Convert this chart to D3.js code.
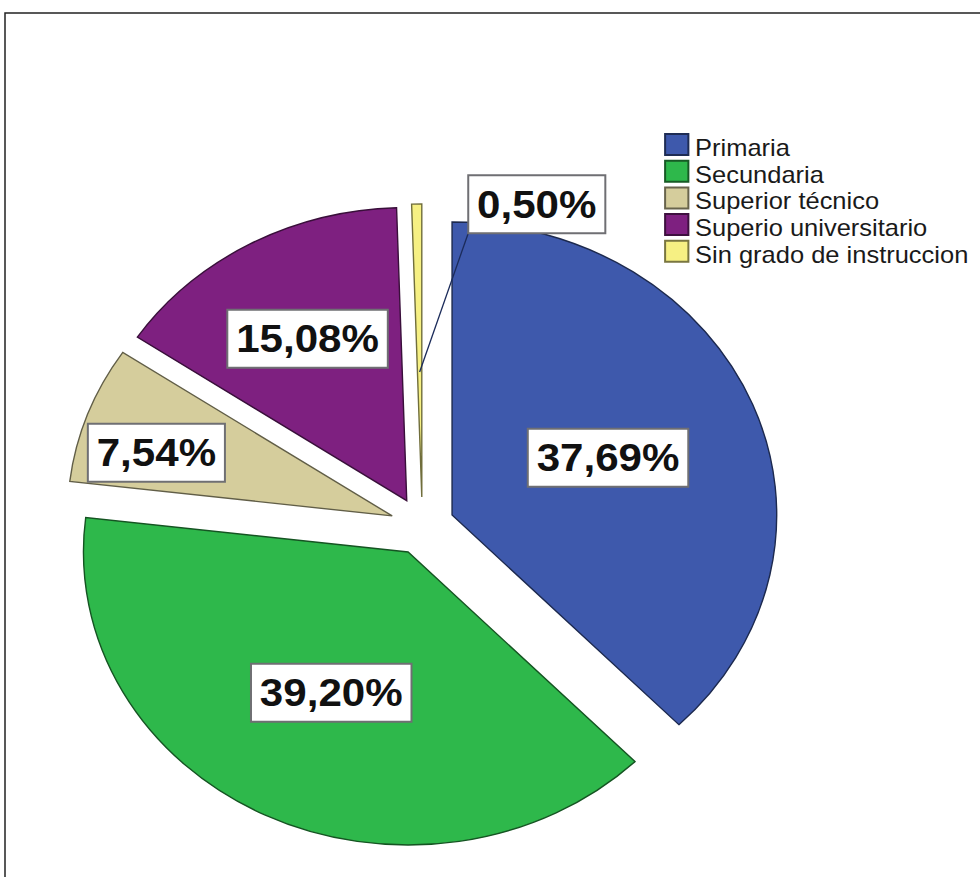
<!DOCTYPE html>
<html>
<head>
<meta charset="utf-8">
<script src="https://cdn.jsdelivr.net/npm/d3@7"></script>
<style>
  html, body { margin: 0; padding: 0; background: #ffffff; }
  svg { display: block; }
  text { font-family: "Liberation Sans", Arial, Helvetica, sans-serif; }
</style>
</head>
<body>
<svg id="chart" width="980" height="877"></svg>
<script>
// Nivel de instrucción — porcentajes por categoría
const categories = ["Primaria", "Secundaria", "Superior técnico", "Superio universitario", "Sin grado de instruccion"];
const percentages = [37.69, 39.20, 7.54, 15.08, 0.50];

// Paleta de cada sector
const palette = ["#3e59ac", "#2eb84b", "#d5cd9c", "#7e2080", "#f6f083"];

// Geometría del gráfico
const W = 980, H = 877;
const cx = 422.3, cy = 526;     // centro del pastel
const stretchX = 1.108;         // el pastel se dibuja algo más ancho que alto
const R = 293;                  // radio
const explode = 29;             // separación de cada sector

// Posición de las etiquetas: distancia al vértice de su sector (y giro opcional en grados)
const labelPlacement = [
  { r: 152 },
  { r: 157 },
  { r: 222, turn: -3.8 },
  { r: 185 },
  { outside: true, angle: 17.8, r: 338, leaderFrom: 125 }
];

const svg = d3.select("#chart");

// Marco
svg.append("path")
  .attr("d", `M5,${H} V13 H${W}`)
  .attr("fill", "none")
  .attr("stroke", "#222")
  .attr("stroke-width", 1.5);

const data = categories.map((c, i) => ({ category: c, value: percentages[i], color: palette[i], i }));

const pie = d3.pie().sort(null).value(d => d.value).startAngle(0).endAngle(2 * Math.PI);
const arcs = pie(data);
const arc = d3.arc().innerRadius(0).outerRadius(R);

const g = svg.append("g").attr("transform", `translate(${cx},${cy}) scale(${stretchX},1)`);

const polar = (angle, r) => [Math.sin(angle) * r, -Math.cos(angle) * r];
const midAngle = a => (a.startAngle + a.endAngle) / 2;

// Sectores separados
g.selectAll("path.slice")
  .data(arcs)
  .join("path")
  .attr("class", "slice")
  .attr("transform", a => {
    const [dx, dy] = polar(midAngle(a), explode);
    return `translate(${dx},${dy})`;
  })
  .attr("d", arc)
  .attr("fill", a => a.data.color)
  .attr("stroke", a => d3.color(a.data.color).darker(2.2))
  .attr("stroke-width", 1.4)
  .attr("vector-effect", "non-scaling-stroke");

// Etiquetas de porcentaje
const fmt = d3.formatLocale({ decimal: ",", thousands: ".", grouping: [3], currency: ["", ""] }).format(".2f");
const fontSize = 38, padX = 8, boxH = 58;

arcs.forEach(a => {
  const p = labelPlacement[a.data.i];
  const m = midAngle(a);
  let x, y;
  if (p.outside) {
    [x, y] = polar(p.angle * Math.PI / 180, p.r);
  } else {
    const [ox, oy] = polar(m, explode);
    const [lx, ly] = polar(m + (p.turn || 0) * Math.PI / 180, p.r);
    x = ox + lx; y = oy + ly;
  }

  const lg = g.append("g");
  const rect = lg.append("rect")
    .attr("fill", "#ffffff")
    .attr("stroke", "#6f6f73")
    .attr("stroke-width", 2)
    .attr("vector-effect", "non-scaling-stroke");
  const t = lg.append("text")
    .attr("x", x)
    .attr("y", y + fontSize * 0.358)
    .attr("text-anchor", "middle")
    .attr("font-size", fontSize)
    .attr("font-weight", "bold")
    .attr("fill", "#111")
    .text(fmt(a.data.value) + "%");
  const w = t.node().getBBox().width + 2 * padX;
  rect.attr("x", x - w / 2).attr("y", y - boxH / 2).attr("width", w).attr("height", boxH);

  if (p.outside) {
    // Línea guía desde el sector hasta la esquina de su etiqueta
    const [ox, oy] = polar(m, explode);
    const [sx, sy] = polar(m, p.leaderFrom);
    lg.insert("line", "rect")
      .attr("x1", ox + sx).attr("y1", oy + sy)
      .attr("x2", x - w / 2).attr("y2", y + boxH / 2)
      .attr("stroke", "#1b2b5a")
      .attr("stroke-width", 1.3)
      .attr("vector-effect", "non-scaling-stroke");
  }
});

// Leyenda
const legend = svg.append("g").attr("transform", `translate(664,133) scale(${stretchX},1)`);
const rowH = 26.7, sw = 23;
const rows = legend.selectAll("g.row")
  .data(data)
  .join("g")
  .attr("class", "row")
  .attr("transform", (d, i) => `translate(0,${i * rowH})`);
rows.append("rect")
  .attr("x", 1).attr("y", 1)
  .attr("width", sw - 2).attr("height", sw - 2)
  .attr("fill", d => d.color)
  .attr("stroke", d => d3.color(d.color).darker(2))
  .attr("stroke-width", 2)
  .attr("vector-effect", "non-scaling-stroke");
rows.append("text")
  .attr("x", 28)
  .attr("y", sw)
  .attr("font-size", 23)
  .attr("fill", "#1a1a1a")
  .text(d => d.category);
</script>
</body>
</html>
